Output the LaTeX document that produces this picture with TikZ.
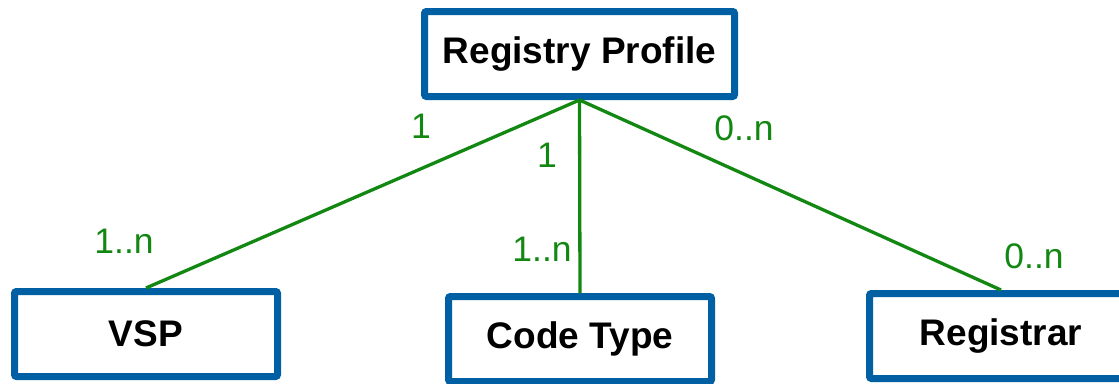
\documentclass[tikz,border=0pt]{standalone}
\usepackage{fontspec}
\setmainfont{Liberation Sans}
\definecolor{boxblue}{RGB}{0,96,163}
\definecolor{relgreen}{RGB}{18,136,18}
\tikzset{
  entity/.style={draw=boxblue, line width=7pt, rounded corners=2pt, fill=white,
    minimum height=85pt, inner sep=0pt,
    font=\fontsize{37}{40}\selectfont\bfseries, text=black},
  rel/.style={draw=relgreen, line width=3.3pt},
  card/.style={inner sep=0pt, anchor=base, text=relgreen, font=\fontsize{35.5}{40}\selectfont}
}
\begin{document}
\begin{tikzpicture}[x=1pt,y=-1pt]
\useasboundingbox (0,0) rectangle (1119,383);
\node[entity, minimum width=310pt] (rp) at (579.5,54) {Registry Profile};
\node[entity, minimum width=263pt] (vsp) at (146,334) {VSP};
\node[entity, minimum width=263pt] (ct) at (580,339) {Code Type};
\node[entity, minimum width=263pt] (reg) at (1001,336) {Registrar};
\draw[rel] (rp.south) -- (vsp.north);
\draw[rel] (rp.south) -- (ct.north);
\draw[rel] (rp.south) -- (reg.north);
\node[card] (c1) at (421,138) {1};
\node[card] (c2) at (547,167) {1};
\node[card] (c3) at (744,140) {0..n};
\node[card] (c4) at (124,253) {1..n};
\node[card] (c5) at (542,261) {1..n};
\node[card] (c6) at (1034,268) {0..n};
\end{tikzpicture}
\end{document}
